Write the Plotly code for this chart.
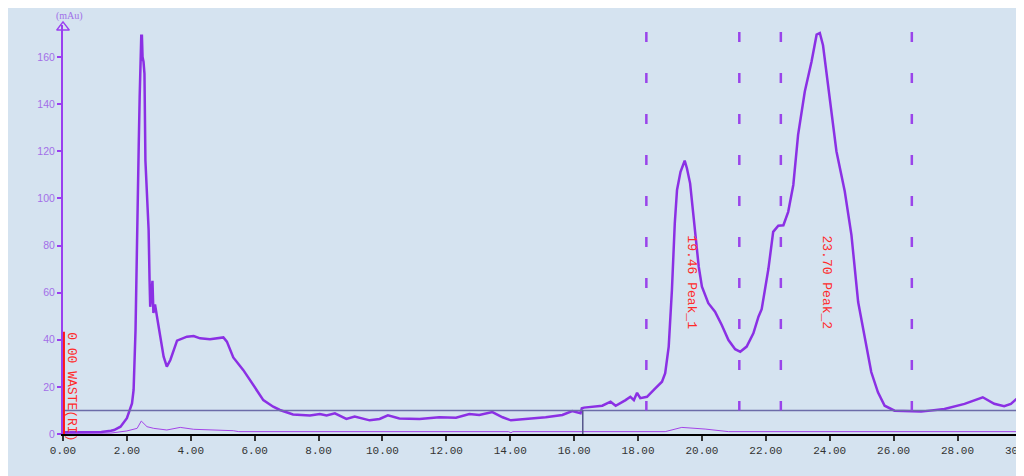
import plotly.graph_objects as go

# ---- data ----
main_t = [0, 0.6, 1.2, 1.5, 1.6, 1.8, 2.0, 2.16, 2.21, 2.27, 2.30, 2.32, 2.34, 2.37, 2.40, 2.42,
          2.45, 2.47, 2.49, 2.52, 2.55, 2.58, 2.62, 2.65, 2.68, 2.71, 2.73, 2.76, 2.80, 2.83, 2.88,
          2.94, 3.05, 3.15, 3.25, 3.36, 3.57, 3.88, 4.09, 4.29, 4.6, 5.02, 5.13, 5.33, 5.64, 5.96,
          6.27, 6.58, 6.79, 7.2, 7.73, 8.04, 8.25, 8.51, 8.87, 9.13, 9.6, 9.91, 10.17, 10.53, 11.16,
          11.78, 12.3, 12.72, 13.03, 13.44, 13.76, 14.02, 14.49, 15.11, 15.63, 15.94, 16.2, 16.24,
          16.31, 16.88, 17.14, 17.3, 17.61, 17.76, 17.87, 17.97, 18.07, 18.28, 18.54, 18.75, 18.85,
          18.96, 19.06, 19.15, 19.22, 19.33, 19.46, 19.53, 19.63, 19.71, 19.79, 19.9, 20.0, 20.2,
          20.41, 20.62, 20.83, 21.04, 21.2, 21.4, 21.61, 21.77, 21.87, 22.08, 22.23, 22.39, 22.55,
          22.7, 22.86, 23.01, 23.22, 23.43, 23.59, 23.69, 23.79, 23.95, 24.21, 24.47, 24.68, 24.89,
          25.1, 25.3, 25.51, 25.72, 26.03, 26.86, 27.59, 28.22, 28.79, 29.15, 29.46, 29.67, 30.0]
main_v = [0.7, 0.7, 0.9, 1.4, 1.7, 3.1, 6.7, 13, 18.7, 44, 72.6, 88, 102, 122, 143, 160,
          169, 169, 160, 158, 153, 116, 105, 99, 86.6, 65, 54, 58, 65, 51.4, 55,
          50, 41.3, 32.8, 28.6, 31.4, 39.6, 41.3, 41.6, 40.6, 40.2, 41, 39.2, 32.5, 27.2, 20.8,
          14.4, 11.6, 10.2, 8.3, 7.9, 8.5, 7.9, 8.8, 6.4, 7.4, 5.8, 6.4, 7.9, 6.6, 6.4,
          7.1, 6.9, 8.5, 8.1, 9.3, 7.1, 5.8, 6.4, 7.1, 8.1, 9.7, 8.8, 10.9,
          11.2, 12, 13.7, 12, 14.4, 15.8, 14.4, 17.5, 15.2, 15.8, 19.4, 22.2, 25.8,
          37.1, 61, 89.4, 103.6, 111.3, 116, 112.8, 106.4, 96.5, 83.7, 71, 62.5, 55.5,
          51.9, 46.3, 39.9, 36, 34.9, 37.1, 42.7, 49.8, 53, 70, 85.8, 88.4, 88.6,
          94.3, 105.7, 127, 145.4, 158, 169.5, 170.2, 165, 148, 120, 103, 84.4, 56,
          40.4, 26.3, 17.7, 12, 9.9, 9.5, 10.6, 12.8, 15.6, 12.8, 11.8, 12.8, 16.6]

second_t = [0, 1.5, 2.0, 2.32, 2.45, 2.63, 2.84, 3.25, 3.67, 4.09, 5.33, 5.5, 13.95, 14.02, 14.08,
            18.85, 19.37, 20.1, 20.83, 30]
second_v = [0.3, 0.4, 1.3, 2.4, 5.5, 3.1, 2.4, 1.7, 2.8, 2.0, 1.4, 1.0, 1.0, 0.5, 1.0,
            1.0, 2.8, 2.1, 1.0, 1.0]

baseline_level = 10
baseline_break = 16.27
waste_level = 43.4
event_times = [18.26, 21.17, 22.47, 26.57]
peak_labels = ["19.46 Peak_1", "23.70 Peak_2"]
peak_label_t = [19.68, 23.90]
x_ticks = list(range(0, 31, 2))
x_tick_text = ["%.2f" % t for t in x_ticks]
y_ticks = list(range(0, 161, 20))

PURPLE = "#8b30e4"
BG = "#d5e3f0"
MONO = "Liberation Mono, DejaVu Sans Mono, monospace"

fig = go.Figure()

fig.add_trace(go.Scatter(x=second_t, y=second_v, mode="lines",
                         line=dict(color="#a444e8", width=1), hoverinfo="skip"))
fig.add_trace(go.Scatter(x=main_t, y=main_v, mode="lines",
                         line=dict(color=PURPLE, width=2.5), hoverinfo="skip"))
# axis arrow at top of y axis
fig.add_trace(go.Scatter(x=[0], y=[172.6], mode="markers", cliponaxis=False,
                         marker=dict(symbol="triangle-up-open", size=11, color="#9a3ff0",
                                     line=dict(width=1.5, color="#9a3ff0")),
                         hoverinfo="skip"))

shapes = []
# baseline box
shapes.append(dict(type="line", xref="x", yref="y", x0=0, x1=30.05, y0=baseline_level, y1=baseline_level,
                   line=dict(color="#6c6ca8", width=1.5)))
shapes.append(dict(type="line", xref="x", yref="y", x0=0.02, x1=0.02, y0=0, y1=baseline_level,
                   line=dict(color="#6c6ca8", width=1.5)))
shapes.append(dict(type="line", xref="x", yref="y", x0=baseline_break, x1=baseline_break, y0=0,
                   y1=baseline_level, line=dict(color="#55558a", width=1.5)))
# red waste marker
shapes.append(dict(type="line", xref="x", yref="y", x0=0.03, x1=0.03, y0=0, y1=waste_level,
                   line=dict(color="#ff1a1a", width=2)))
# dashed event lines
for t in event_times:
    shapes.append(dict(type="line", xref="x", yref="y", x0=t, x1=t, y0=170.6, y1=baseline_level,
                       line=dict(color="#9a44ea", width=2.5, dash="10px,31px")))

annotations = []
for lab, t in zip(peak_labels, peak_label_t):
    annotations.append(dict(x=t, y=64.5, xref="x", yref="y", text=lab, showarrow=False,
                            textangle=90, font=dict(family=MONO, size=13, color="#ff2a2a")))
annotations.append(dict(x=0.24, y=20, xref="x", yref="y", text="0.00 WASTE(RI)", showarrow=False,
                        textangle=90, font=dict(family=MONO, size=13, color="#ff2a2a")))
annotations.append(dict(x=0, y=1, xref="paper", yref="paper", text="(mAu)", showarrow=False,
                        xanchor="center", yanchor="bottom", xshift=6, yshift=1,
                        font=dict(family="Liberation Serif, serif", size=10, color="#a070e8")))

# the page body has an 8px margin, so the figure is sized/margined to compensate
fig.update_layout(
    width=1016, height=468,
    margin=dict(l=55, r=1, t=17, b=42, autoexpand=False),
    paper_bgcolor=BG, plot_bgcolor=BG,
    showlegend=False,
    shapes=shapes, annotations=annotations,
    xaxis=dict(range=[0, 30.05], showgrid=False, zeroline=False, showline=True,
               linecolor="#000000", linewidth=1.5, ticks="outside", ticklen=5, tickwidth=1.5,
               tickcolor="#333333", tickvals=x_ticks, ticktext=x_tick_text,
               ticklabeloverflow="allow", automargin=False,
               tickfont=dict(family=MONO, size=11, color="#333333")),
    yaxis=dict(range=[0, 173.6], showgrid=False, zeroline=False, showline=True,
               linecolor="#9a3ff0", linewidth=2, ticks="outside", ticklen=4, tickwidth=1.5,
               tickcolor="#9a3ff0", tickvals=y_ticks, automargin=False,
               tickfont=dict(family="Liberation Sans, Arial, sans-serif", size=10.5, color="#a36fe8")),
)

fig.write_html("out.html")
